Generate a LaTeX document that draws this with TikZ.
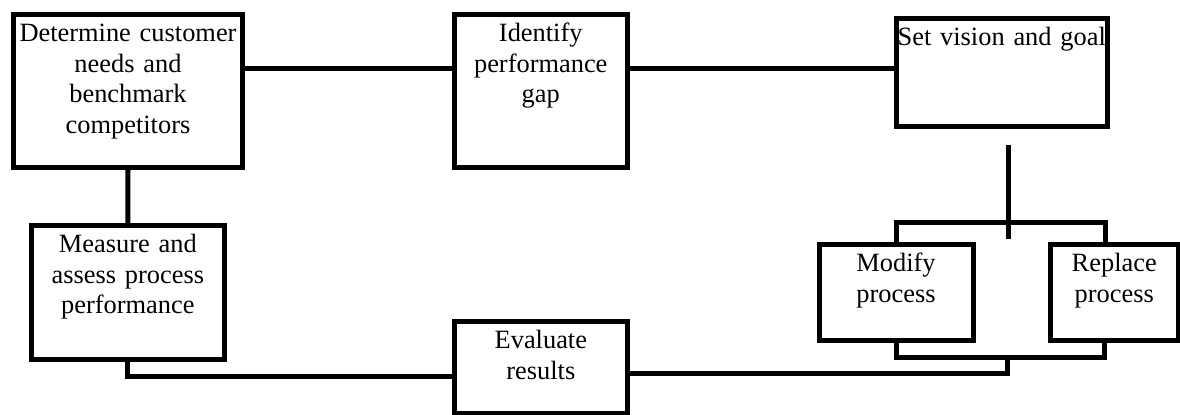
\documentclass[tikz,border=0pt]{standalone}
\usepackage{fontspec}
\setmainfont{Liberation Serif}
\usepackage{tikz}
\tikzset{
  stepbox/.style={draw, line width=2.5pt, inner sep=0pt, anchor=north west, align=center,
    text height=13.5pt, font=\fontsize{13.2}{15.3}\selectfont},
  link/.style={line width=2.5pt}
}

\begin{document}
\begin{tikzpicture}[x=0.5pt, y=-0.5pt]
  \useasboundingbox (0,0) rectangle (1180,415);

  \node[stepbox, text width=114.5pt, text depth=63pt] (det) at (11,12) {Determine customer\\needs and\\benchmark\\competitors};
  \node[stepbox, text width=86.75pt, text depth=63.25pt] (gap) at (451.5,12) {Identify\\performance\\gap};
  \node[stepbox, text width=105.75pt, text depth=40.5pt] (goal) at (893.5,16.5) {Set vision and goal};
  \node[stepbox, text width=96.35pt, text depth=53.75pt] (meas) at (29,223) {Measure and\\assess process\\performance};
  \node[stepbox, text width=86.65pt, text depth=32.25pt] (eval) at (451.7,319.5) {Evaluate\\results};
  \node[stepbox, text width=77pt, text depth=34.25pt] (mod) at (816.5,242.5) {Modify\\process};
  \node[stepbox, text width=64.25pt, text depth=34.25pt] (rep) at (1047.5,242.5) {Replace\\process};

  \coordinate (toprow) at (0,69);
  \coordinate (lowrow) at (0,376.5);
  \coordinate (outrow) at (0,374);
  \coordinate (splitrow) at (0,222.7);
  \coordinate (repx) at (1105,0);
  \coordinate (mergex) at (1104.5,0);
  \coordinate (fork) at (1007.5,357.5);
  \coordinate (stubtop) at (1008.3,145);
  \coordinate (stubbot) at (1008.3,239);

  \draw[link] (det.east |- toprow) -- (gap.west |- toprow);
  \draw[link] (gap.east |- toprow) -- (goal.west |- toprow);
  \draw[link] (det.south) -- (meas.north);
  \draw[link] (meas.south) |- (eval.west |- lowrow);
  \draw[link] (stubtop) -- (stubbot);
  \draw[link] (mod.north) |- (repx |- splitrow) -- (rep.north -| repx);
  \draw[link] (mod.south) |- (fork) -| (rep.south -| mergex);
  \draw[link] (eval.east |- outrow) -| (fork);
\end{tikzpicture}
\end{document}
